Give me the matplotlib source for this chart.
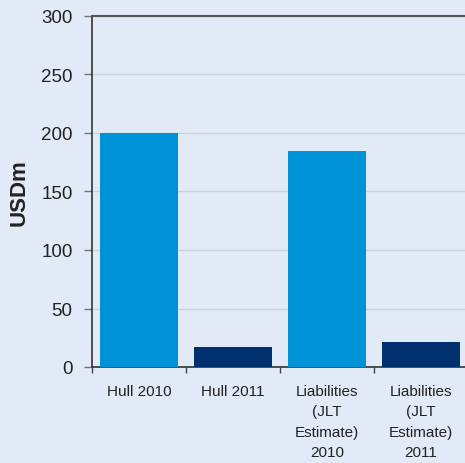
import numpy as np
import matplotlib.pyplot as plt
from matplotlib.ticker import FixedLocator

categories = ["Hull 2010", "Hull 2011", "Liabilities\n(JLT\nEstimate)\n2010", "Liabilities\n(JLT\nEstimate)\n2011"]
values = [200, 17, 185, 21]
colors = ["#0092d6", "#00306e", "#0092d6", "#00306e"]
yticks = [0, 50, 100, 150, 200, 250, 300]

bg = "#e1eaf6"
plt.rcParams['font.family'] = ['Liberation Sans', 'DejaVu Sans']

fig = plt.figure(figsize=(4.65, 4.64), dpi=100, facecolor=bg)
ax = fig.add_axes([92 / 465, 1 - 368 / 464, (468 - 92) / 465, (368 - 17) / 464])
ax.set_facecolor(bg)

x = np.arange(len(categories))
ax.bar(x, values, width=0.84, color=colors, zorder=3)

ax.set_xlim(-0.5, len(categories) - 0.5)
ax.set_ylim(0, 300)
ax.set_yticks(yticks)
ax.grid(axis='y', color='#c9d1dc', linewidth=1, zorder=0)
ax.set_axisbelow(True)

ax.set_xticks(x)
ax.set_xticklabels(categories, fontsize=11, linespacing=1.6, color='#222222')
ax.xaxis.set_minor_locator(FixedLocator(np.arange(len(categories)) - 0.5))
ax.tick_params(axis='x', which='major', length=0, pad=12)
ax.tick_params(axis='x', which='minor', length=4, width=1, color='#444444', direction='out')
ax.tick_params(axis='y', length=6, width=1, color='#777777', labelsize=13.5, pad=8, labelcolor='#222222')

for s in ['left', 'bottom']:
    ax.spines[s].set_color('#333333')
    ax.spines[s].set_linewidth(1.2)
ax.spines['top'].set_color('#555555')
ax.spines['top'].set_linewidth(1.5)
ax.spines['right'].set_visible(False)

ax.set_ylabel("USDm", fontsize=16, fontweight='bold', color='#222222', labelpad=8)

plt.savefig("out.png", dpi=100, facecolor=bg)
